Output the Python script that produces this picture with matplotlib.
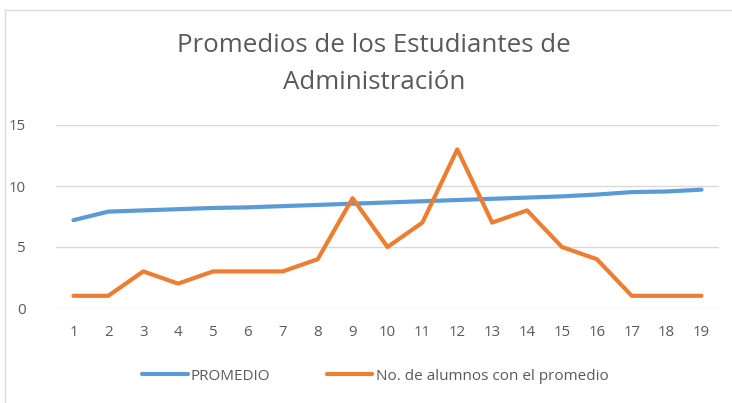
import matplotlib
matplotlib.use("Agg")
import matplotlib.pyplot as plt
from matplotlib.lines import Line2D

plt.rcParams['font.family'] = ['Open Sans', 'DejaVu Sans']

estudiantes = list(range(1, 20))
promedio = [7.2, 7.9, 8.0, 8.1, 8.2, 8.25, 8.35, 8.45, 8.55, 8.65,
            8.75, 8.85, 8.95, 9.05, 9.15, 9.3, 9.5, 9.55, 9.7]
alumnos = [1, 1, 3, 2, 3, 3, 3, 4, 9, 5, 7, 13, 7, 8, 5, 4, 1, 1, 1]
yticks = [0, 5, 10, 15]

blue = '#5B9BD5'
orange = '#ED7D31'
gray_txt = '#595959'

fig = plt.figure(figsize=(7.32, 4.03), dpi=100)
W, H = 732, 403
ax = fig.add_axes([56 / W, 1 - 308 / H, (719 - 56) / W, (308 - 125) / H])

ax.plot(estudiantes, promedio, color=blue, lw=3, solid_capstyle='round', label='PROMEDIO')
ax.plot(estudiantes, alumnos, color=orange, lw=3, solid_capstyle='round',
        label='No. de alumnos con el promedio')

ax.set_xlim(0.5, 19.5)
ax.set_ylim(0, 15)
ax.set_yticks(yticks)
ax.set_xticks(estudiantes)
ax.yaxis.grid(True, color='#D9D9D9', lw=1)
ax.set_axisbelow(True)
for s in ax.spines.values():
    s.set_visible(False)
ax.tick_params(length=0, colors=gray_txt, labelsize=10.8)
ax.tick_params(axis='x', pad=12)
ax.tick_params(axis='y', pad=22)

fig.text(374 / W, 1 - 64 / H, 'Promedios de los Estudiantes de\nAdministración',
         ha='center', va='center', fontsize=18.6, color=gray_txt, linespacing=1.6)

fig.legend(loc='center', bbox_to_anchor=(375 / W, 1 - 376 / H), ncol=2, frameon=False,
           fontsize=11, labelcolor=gray_txt, handlelength=3.0, handletextpad=0.2,
           columnspacing=3.7)

# outer chart frame (only top and left edge visible in the crop)
fig.add_artist(Line2D([5 / W, 1], [1 - 10 / H] * 2, color='#D9D9D9', lw=1))
fig.add_artist(Line2D([5 / W] * 2, [0, 1 - 10 / H], color='#D9D9D9', lw=1))

fig.savefig('out.png', dpi=100)
